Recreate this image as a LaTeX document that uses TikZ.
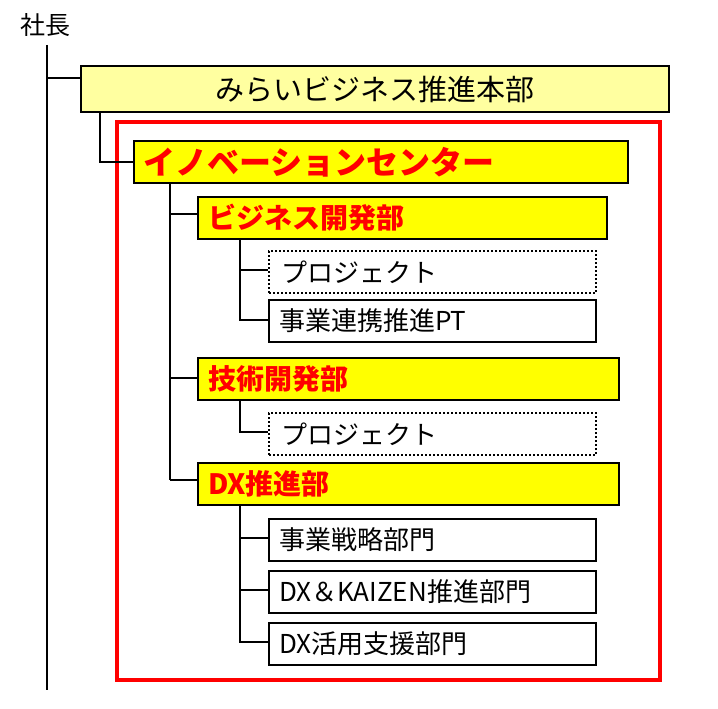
\documentclass[tikz,border=0pt]{standalone}
\usepackage{fontspec}
\setmainfont{Noto Sans CJK JP}
\usetikzlibrary{positioning}
\definecolor{box_pale}{RGB}{255,255,160}
\definecolor{box_yellow}{RGB}{255,255,0}
\definecolor{text_red}{RGB}{255,0,0}

\begin{document}
\begin{tikzpicture}[x=1pt,y=-1pt,line width=2pt]
    \tikzstyle{unit}=[draw=black, line width=2pt, anchor=north west, inner sep=0pt, text=black]
    \tikzstyle{hq}=[style=unit, fill=box_pale, font=\fontsize{29}{29}\selectfont]
    \tikzstyle{center}=[style=unit, fill=box_yellow, text=text_red, font=\fontsize{32}{32}\bfseries\selectfont]
    \tikzstyle{dept}=[style=unit, fill=box_yellow, text=text_red, font=\fontsize{28}{28}\bfseries\selectfont, minimum height=42pt, align=left]
    \tikzstyle{team}=[style=unit, fill=white, font=\fontsize{26}{26}\selectfont, text width=327pt, minimum height=42pt, align=left]
    \tikzstyle{proj}=[style=team, dotted]

    \useasboundingbox (0,0) rectangle (718,709);

    \node (ceo) at (45,25) {\fontsize{25}{25}\selectfont 社長};
    \draw[text_red, line width=4pt] (117,122) rectangle (660,680);

    \node[hq, minimum width=588pt, minimum height=46pt] (hq) at (80,65) {みらいビジネス推進本部};
    \node[center, minimum width=494pt, minimum height=42pt, text width=492pt, align=left] (inno) at (133,140) {\hspace*{8pt}イノベーションセンター};

    \node[dept, text width=409pt] (biz) at (197,196) {\hspace*{10pt}ビジネス開発部};
    \node[proj] (proj1) at (268,250) {\hspace*{12pt}プロジェクト};
    \node[team] (pt) at (268,299) {\hspace*{10pt}事業連携推進PT};

    \node[dept, text width=421pt] (tech) at (197,357) {\hspace*{10pt}技術開発部};
    \node[proj] (proj2) at (268,412) {\hspace*{12pt}プロジェクト};

    \node[dept, text width=421pt] (dx) at (197,462) {\hspace*{10pt}DX推進部};
    \node[team] (strat) at (268,518) {\hspace*{10pt}事業戦略部門};
    \node[team] (kaizen) at (268,570) {\hspace*{10pt}DX＆KAIZEN推進部門};
    \node[team] (supp) at (268,622) {\hspace*{10pt}DX活用支援部門};

    % connectors
    \draw (47,45) -- (47,690);
    \draw (47,78) -- (hq.west |- 0,78);
    \draw (100,0 |- hq.south) -- (100,162) -- (inno.west |- 0,162);
    \draw (170,0 |- inno.south) -- (170,480);
    \draw (170,214) -- (biz.west |- 0,214);
    \draw (170,378) -- (tech.west |- 0,378);
    \draw (170,480) -- (dx.west |- 0,480);
    \draw (240,0 |- biz.south) -- (240,320) -- (pt.west |- 0,320);
    \draw (240,270) -- (proj1.west |- 0,270);
    \draw (240,0 |- tech.south) -- (240,432) -- (proj2.west |- 0,432);
    \draw (240,0 |- dx.south) -- (240,642) -- (supp.west |- 0,642);
    \draw (240,538) -- (strat.west |- 0,538);
    \draw (240,590) -- (kaizen.west |- 0,590);
\end{tikzpicture}
\end{document}
